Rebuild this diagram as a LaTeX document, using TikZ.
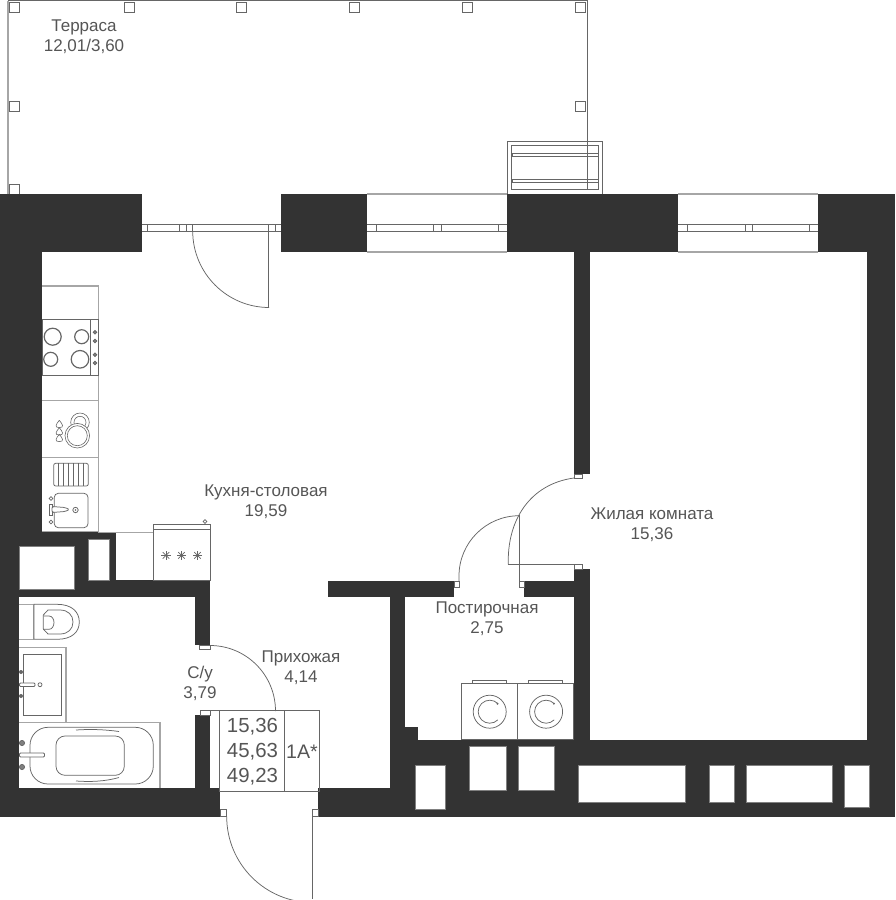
\documentclass[tikz,border=0pt]{standalone}
\usepackage{fontspec}
\setmainfont{Liberation Sans}
\definecolor{wallgray}{HTML}{333333}
\definecolor{linegray}{HTML}{666666}
\definecolor{textgray}{HTML}{555555}
\tikzset{
    wall/.style={fill=wallgray,draw=none},
    hole/.style={fill=white,draw=gray,line width=0.6pt},
    fixture/.style={draw=linegray,line width=0.75pt},
    pale/.style={draw=gray!70,line width=1.1pt},
    roomlabel/.style={text=textgray,font=\fontsize{17}{19.6}\selectfont,align=center,inner sep=0pt},
    boxlabel/.style={text=textgray,font=\fontsize{20.4}{25}\selectfont,align=center,inner sep=0pt}
}
\begin{document}
\begin{tikzpicture}[x=1pt,y=-1pt]
    \useasboundingbox (0,0) rectangle (895,900);

    % terrace
    \draw[pale] (8,194) -- (8,0.5);
    \draw[fixture] (8,0.5) -- (587.3,0.5) -- (587.3,189);
    \foreach \cx/\cy in {14/7,129/7,241/7,354/7,467/7,580/7,14/106,580/106,14/189}
        \draw[fixture,fill=white] (\cx-5,\cy-5) rectangle (\cx+5,\cy+5);

    % walls
    \fill[wall] (0,194) rectangle (142,252);
    \fill[wall] (281,194) rectangle (367,252);
    \fill[wall] (507,194) rectangle (678,252);
    \fill[wall] (818,194) rectangle (895,252);
    \fill[wall] (0,252) rectangle (42,532);
    \fill[wall] (0,532) rectangle (116,580);
    \fill[wall] (0,580) rectangle (210,597);
    \fill[wall] (0,597) rectangle (19,788);
    \fill[wall] (195,597) rectangle (210,645);
    \fill[wall] (195,715) rectangle (210,788);
    \fill[wall] (0,788) rectangle (220,817);
    \fill[wall] (318,788) rectangle (405,817);
    \fill[wall] (390,597) rectangle (405,788);
    \fill[wall] (328,581) rectangle (454,597);
    \fill[wall] (524,581) rectangle (574,597);
    \fill[wall] (574,252) rectangle (590,474);
    \fill[wall] (574,569) rectangle (590,740);
    \fill[wall] (405,727) rectangle (418,740);
    \fill[wall] (390,740) rectangle (895,817);
    \fill[wall] (867,252) rectangle (895,740);

    % shafts
    \foreach \xa/\ya/\xb/\yb in {19/546/74/589.5,88/539/109/580,415.7/765.3/445/809.3,469/746.7/506.3/790,518/746.7/554/790,578.3/765.3/685.7/802.3,709.3/765.3/734.7/802.3,746/765.3/832.3/802.3,844/765.3/869/807.3}
        \draw[hole] (\xa,\ya) rectangle (\xb,\yb);

    % windows and balcony door
    \foreach \xa/\xb in {367/507,678/818}
        \draw[pale] (\xa,194) -- (\xb,194) (\xa,252) -- (\xb,252);
    \foreach \xa/\xb in {141.5/281,367/507,678/818}
        \draw[fixture] (\xa,224.3) -- (\xb,224.3) (\xa,231.3) -- (\xb,231.3);
    \foreach \tx in {147,179,186,192.7,268.5,275,376,433,441,498,687,745,752,809}
        \draw[fixture] (\tx,224.3) -- (\tx,231.3);
    \draw[fixture] (268.5,231) -- (268.5,307.5);
    \draw[fixture] (192.7,231) arc[start angle=180,end angle=90,radius=76.5];

    % air conditioner
    \draw[fixture] (507.3,194) -- (507.3,141) -- (602.3,141) -- (602.3,194);
    \draw[fixture] (511.7,145.3) rectangle (598,189);
    \draw[fixture] (512,153) rectangle (598,156.7);
    \draw[fixture] (512,179) rectangle (598,182.7);

    % kitchen counter
    \draw[pale] (42,286) -- (98.3,286) -- (98.3,531.7) -- (42,531.7);
    \draw[pale] (98.3,532.3) -- (116,532.3);
    \draw[pale] (42,400.7) -- (98.3,400.7) (42,457.3) -- (98.3,457.3);
    \draw[fixture] (42,319.3) rectangle (98.3,375.3);
    \draw[fixture] (90.7,319.3) -- (90.7,375.3);
    \foreach \bx/\by/\br in {52.7/336.7/8.5,81.7/336.7/7,50.7/359.3/7,80/359.3/8.8}
        \draw[linegray,line width=1.2pt] (\bx,\by) circle[radius=\br];
    \foreach \ky in {332.3,341,354.7,363}
        \draw[fixture,fill=gray] (95,\ky) circle[radius=1.8];
    % dishwasher
    \draw[fixture,line width=0.6pt] (80,422.3) circle[radius=9.3] (80,422.3) circle[radius=6];
    \draw[fixture,line width=0.6pt,fill=white] (77.3,435.7) circle[radius=12.3] (77.3,435.7) circle[radius=10];
    \foreach \dy in {424.3,431.7,438.3}
        \draw[fixture,line width=0.6pt] (59.3,\dy-4) .. controls (56,\dy) and (54,\dy+3.3) .. (59.3,\dy+3.3) .. controls (64.6,\dy+3.3) and (62.6,\dy) .. (59.3,\dy-4);
    % sink
    \draw[fixture,rounded corners=2pt] (53.7,463.3) rectangle (88.3,486);
    \foreach \lx in {58.7,63.7,68.7,73.7,78.7,83.7}
        \draw[fixture] (\lx,463.3) -- (\lx,486);
    \draw[fixture,rounded corners=4pt] (54.3,493.3) rectangle (88,527.7);
    \draw[fixture,fill=white] (49.3,504.3) rectangle (52,515.7);
    \draw[fixture,fill=white,rounded corners=1.5pt] (52,506.5) -- (65,507.5) -- (69.5,509.5) -- (65,511.5) -- (52,512.5) -- cycle;
    \draw[fixture] (51,498.5) circle[radius=1.8] (51,522) circle[radius=1.8];
    \draw[fixture] (75.5,510) circle[radius=2.7];
    \fill[linegray] (75.5,510) circle[radius=0.8];

    % stove
    \draw[pale] (116,532.3) -- (153.3,532.3);
    \draw[fixture] (153.3,524.3) rectangle (210,580.7);
    \draw[fixture] (153.3,529.3) -- (210,529.3);
    \draw[fixture] (205,521.5) circle[radius=1.8] (205,524.3) -- (205,523.3);
    \foreach \sx in {166,181.5,197.5}
        \foreach \a in {0,45,90,135}
            \draw[fixture] (\sx,555.3) +(\a:4.6) -- +(\a+180:4.6);

    % toilet
    \draw[pale] (19,604.3) -- (33.3,604.3) -- (33.3,639.3) -- (19,639.3);
    \draw[fixture] (34,604.3) -- (57,604.3) .. controls (72,604.3) and (79.3,612) .. (79.3,622) .. controls (79.3,632) and (72,639.3) .. (57,639.3) -- (34,639.3) -- cycle;
    \draw[fixture] (43.3,615) -- (48,610) -- (60,610) .. controls (68,610) and (73,615) .. (73,622) .. controls (73,629) and (68,634) .. (60,634) -- (48,634) -- (43.3,629) -- cycle;
    \draw[fixture] (43.5,616) -- (49,616) .. controls (52,616) and (54,619) .. (54,622.5) .. controls (54,626) and (52,629.3) .. (49,629.3) -- (43.5,629.3);

    % washbasin
    \draw[pale] (19,647.3) -- (66,647.3) -- (66,722.3) -- (19,722.3);
    \draw[fixture] (23,654.3) rectangle (61,715);
    \draw[fixture,fill=white,rounded corners=1pt] (19.5,683) rectangle (35,686.5);
    \draw[fixture] (40,684.7) circle[radius=2];
    \fill[linegray] (21,672) circle[radius=2] (21,696) circle[radius=2];

    % bath
    \draw[pale] (19,722.6) -- (160,722.6) -- (160,788);
    \draw[fixture,rounded corners=18pt] (30,727.3) rectangle (153.3,784);
    \draw[fixture,rounded corners=9pt] (56,736) rectangle (124.3,775.3);
    \draw[fixture] (76,730) .. controls (90,729) and (105,729.5) .. (119,731.5);
    \draw[fixture] (76,781) .. controls (90,782) and (105,781.5) .. (119,777.5);
    \draw[fixture,fill=white,rounded corners=1pt] (19.5,753) rectangle (44.5,757);
    \foreach \ky in {743,767}
        \draw[fixture,fill=gray] (22,\ky) circle[radius=2.6];

    % bathroom door
    \draw[fixture] (199.5,645) rectangle (210,649.3);
    \draw[fixture] (200.5,710.7) rectangle (210,715);
    \draw[fixture] (210,645.5) arc[start angle=270,end angle=360,radius=65.5];

    % plate at the entrance
    \draw[fixture] (210,710.7) -- (319.3,710.7) -- (319.3,791) -- (219.3,791) -- (219.3,710.7);
    \draw[fixture] (284.3,710.7) -- (284.3,791);

    % entrance door
    \draw[fixture] (220,809.3) rectangle (226.7,816.5);
    \draw[fixture] (312.7,809.3) rectangle (318.3,816.5);
    \draw[fixture] (312.7,816.5) -- (312.7,899.3);
    \draw[fixture] (226.7,816.5) arc[start angle=180,end angle=90,radius=86];

    % laundry door
    \draw[fixture] (454,581) rectangle (459,587.3);
    \draw[fixture] (519.3,581) rectangle (524,587.3);
    \draw[fixture] (519.3,515) -- (519.3,581);
    \draw[fixture] (459,581) -- (459,576) arc[start angle=180,end angle=270,radius=60.3];

    % room door
    \draw[fixture] (574,474.3) rectangle (582,478.3);
    \draw[fixture] (574,564.3) rectangle (582,569);
    \draw[fixture] (508.3,564.3) -- (574,564.3);
    \draw[fixture] (574,478) .. controls (530,484) and (507,520) .. (508.3,564.3);

    % washers
    \foreach \wx in {461.3,517.7}{
        \draw[fixture] (\wx,683.3) rectangle (\wx+56,739.3);
        \draw[fixture] (\wx+11,683.3) -- (\wx+11,680.7) -- (\wx+45,680.7) -- (\wx+45,683.3);
        \draw[fixture] (\wx+28.4,711.7) circle[radius=16.5];
        \draw[fixture] (\wx+28.4,711.7) ++(-45:11.5) arc[start angle=-45,end angle=-315,radius=11.5];
        \fill[linegray] (\wx+28.4+7.8,711.7-8) circle[radius=1.1];
    }

    % labels
    \node[roomlabel] at (84,36.5) (terrace) {Терраса\\12,01/3,60};
    \node[roomlabel] at (266,501.5) (kitchen) {Кухня-столовая\\19,59};
    \node[roomlabel] at (652,525) (living) {Жилая комната\\15,36};
    \node[roomlabel] at (487,619) (laundry) {Постирочная\\2,75};
    \node[roomlabel] at (301,667.5) (hall) {Прихожая\\4,14};
    \node[roomlabel] at (200,683.5) (bathroom) {С/у\\3,79};
    \node[boxlabel] at (252.5,752) (areas) {15,36\\45,63\\49,23};
    \node[boxlabel,font=\fontsize{19.6}{25}\selectfont] at (302,752) (flat) {1А*};
\end{tikzpicture}
\end{document}
